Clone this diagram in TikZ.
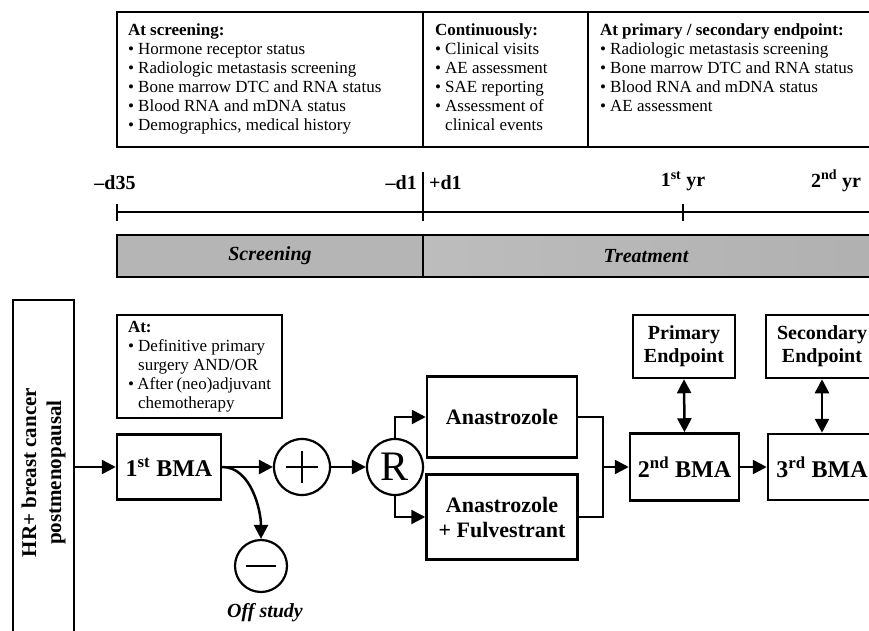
\documentclass[tikz,border=0pt]{standalone}
\usepackage{fontspec}
\setmainfont{Liberation Serif}
\usetikzlibrary{arrows.meta,positioning}
\newcommand{\puce}[1]{\par\hangindent=0.6em\hangafter=1\textbullet\ #1}
\begin{document}
\begin{tikzpicture}[x=1pt,y=-1pt]
		% STYLES
		\tikzstyle{boite} = [draw=black, line width=2.5pt, inner sep=0pt]
		\tikzstyle{rond} = [draw=black, line width=2.2pt, circle, minimum size=56pt, inner sep=0pt]
		\tikzstyle{fleche} = [line width=2.5pt, -{Triangle[length=14pt,width=14pt]}]
		\tikzstyle{double} = [line width=2.5pt, {Triangle[length=14pt,width=14pt]}-{Triangle[length=14pt,width=14pt]}]
		\tikzstyle{trait} = [line width=2.5pt]
		\tikzstyle{petit} = [font=\fontsize{17}{19}\selectfont]
		\tikzstyle{temps} = [font=\fontsize{20}{22}\bfseries\selectfont, inner sep=0pt]
		\tikzstyle{phase} = [font=\fontsize{20}{22}\bfseries\itshape\selectfont]
		\tikzstyle{bma} = [boite, font=\fontsize{24}{28}\bfseries\selectfont]
		\tikzstyle{bras} = [boite, font=\fontsize{22}{25}\bfseries\selectfont, align=center]
		\tikzstyle{fin} = [boite, font=\fontsize{20}{23}\bfseries\selectfont, align=center]

		\useasboundingbox (0,0) rectangle (869,631);

		% EXAMENS
		\node[boite, petit, minimum width=306, minimum height=135] (depistage) at (270,79.5)
			{\parbox[c][111pt][t]{284pt}{\textbf{At screening:}
			\puce{Hormone receptor status}
			\puce{Radiologic metastasis screening}
			\puce{Bone marrow DTC and RNA status}
			\puce{Blood RNA and mDNA status}
			\puce{Demographics, medical history}}};
		\node[boite, petit, minimum width=165, minimum height=135] (continu) at (505.5,79.5)
			{\parbox[c][111pt][t]{141pt}{\textbf{Continuously:}
			\puce{Clinical visits}
			\puce{AE assessment}
			\puce{SAE reporting}
			\puce{Assessment of\newline clinical events}}};
		\node[boite, petit, minimum width=297, minimum height=135] (critere) at (736.5,79.5)
			{\parbox[c][111pt][t]{273pt}{\textbf{At primary / secondary endpoint:}
			\puce{Radiologic metastasis screening}
			\puce{Bone marrow DTC and RNA status}
			\puce{Blood RNA and mDNA status}
			\puce{AE assessment}}};

		% AXE DU TEMPS
		\draw[trait] (117,212) -- (880,212);
		\draw[trait] (117,204) -- (117,221);
		\draw[trait] (683,204) -- (683,221);
		\draw[trait] (423,172) -- (423,221);
		\node[temps] (jm35) at (115,183) {--d35};
		\node[temps, anchor=east] (jm1) at (417,183) {--d1};
		\node[temps, anchor=west] (jp1) at (429,183) {+d1};
		\node[temps] (an1) at (683,181) {1\textsuperscript{st} yr};
		\node[temps] (an2) at (836,181) {2\textsuperscript{nd} yr};

		% PHASES
		\shade[left color=gray!58, middle color=gray!8, right color=gray!58]
			(117,235) rectangle (423,277);
		\shade[left color=gray!52, middle color=gray!8, right color=gray!62]
			(423,235) rectangle (890,277);
		\draw[trait] (117,235) rectangle (890,277);
		\draw[trait] (423,235) -- (423,277);
		\node[phase] (screening) at (270,256) {Screening};
		\node[phase] (treatment) at (646,256) {Treatment};

		% ETUDE
		\node[boite, minimum width=61, minimum height=345] (patiente) at (43.5,472.5) {};
		\node[font=\fontsize{21}{25}\bfseries\selectfont, rotate=90, align=center] (population) at (patiente)
			{HR+ breast cancer\\postmenopausal};
		\node[boite, petit, minimum width=165, minimum height=103] (moment) at (199.5,366.5)
			{\parbox{143pt}{\textbf{At:}
			\puce{Definitive primary\newline surgery AND/OR}
			\puce{After (neo)adjuvant\newline chemotherapy}}};
		\node[bma, minimum width=104, minimum height=65] (bma1) at (169,467) {1\textsuperscript{st} BMA};
		\node[rond] (plus) at (302,467) {};
		\draw[trait] (plus.center) ++(-16pt,0) -- ++(32pt,0);
		\draw[trait] (plus.center) ++(0,-16pt) -- ++(0,32pt);
		\node[rond, font=\fontsize{42}{42}\selectfont] (rando) at (395,467) {R};
		\node[bras, minimum width=150, minimum height=81] (ana) at (502,417) {Anastrozole};
		\node[bras, minimum width=151, minimum height=85] (anaful) at (502,517)
			{Anastrozole\\+ Fulvestrant};
		\coordinate (jonction) at (603,467);
		\node[bma, minimum width=109, minimum height=67] (bma2) at (684.5,467) {2\textsuperscript{nd} BMA};
		\node[bma, minimum width=108, minimum height=66] (bma3) at (822,467) {3\textsuperscript{rd} BMA};
		\node[fin, minimum width=102, minimum height=63] (primaire) at (684,346.5) {Primary\\Endpoint};
		\node[fin, minimum width=112, minimum height=63] (secondaire) at (822,346.5) {Secondary\\Endpoint};
		\node[rond, minimum size=52pt] (moins) at (261,566) {};
		\draw[trait] (moins.center) ++(-15pt,0) -- ++(30pt,0);
		\node[phase] (horsetude) at (265,613) {Off study};

		% FLECHES
		\draw[fleche] (patiente.east |- bma1.west) -- (bma1.west);
		\draw[fleche] (bma1.east) -- (plus.west);
		\draw[fleche] (bma1.east) to[out=0, in=90, looseness=0.9] (moins.north);
		\draw[fleche] (plus.east) -- (rando.west);
		\draw[fleche] (rando.north) |- (ana.west);
		\draw[fleche] (rando.south) |- (anaful.west);
		\draw[trait] (ana.east) -| (jonction);
		\draw[trait] (anaful.east) -| (jonction);
		\draw[fleche] (jonction) -- (bma2.west);
		\draw[fleche] (bma2.east) -- (bma3.west);
		\draw[double] (primaire.south) -- (bma2.north);
		\draw[double] (secondaire.south) -- (bma3.north);

\end{tikzpicture}
\end{document}
